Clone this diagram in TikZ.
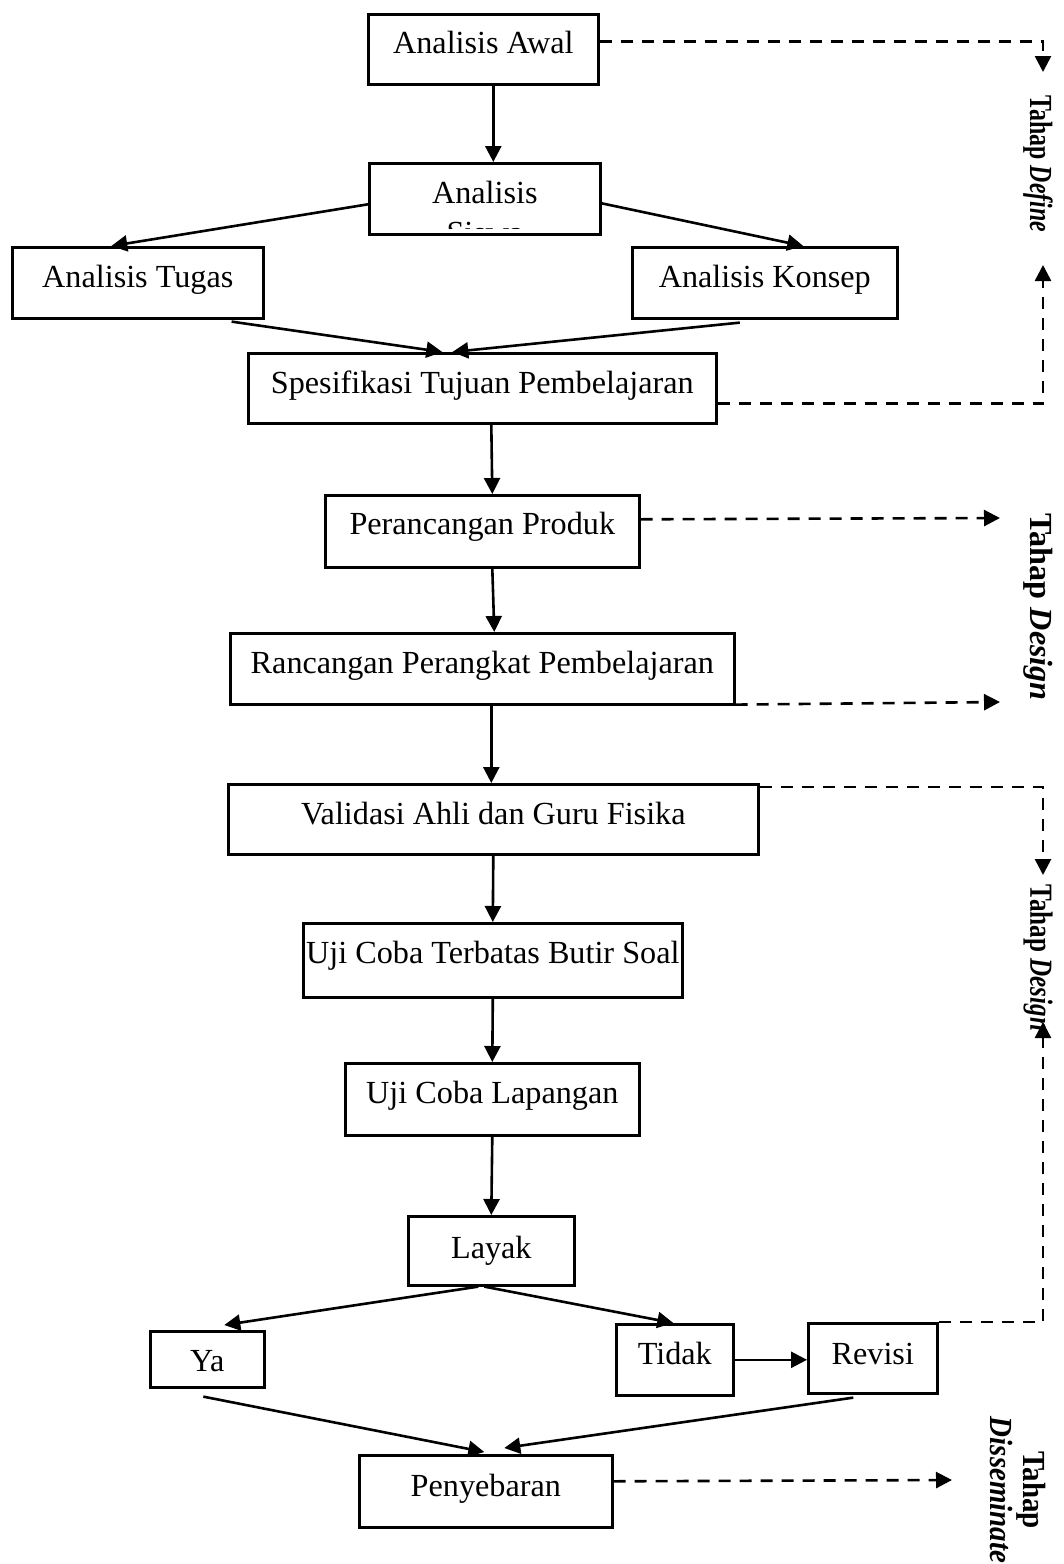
\documentclass[tikz,border=0pt]{standalone}
\usepackage{fontspec}
\setmainfont{Liberation Serif}
\usetikzlibrary{arrows.meta}
\newcommand\boxfont{\fontsize{32.2pt}{33pt}\selectfont}
\begin{document}
\begin{tikzpicture}[x=1pt,y=-1pt,
  box/.style={draw, line width=2.6pt, inner sep=0pt, anchor=north west, font=\boxfont},
  arr/.style={line width=2.6pt, -{Triangle[length=16pt,width=16pt]}},
  dsh/.style={line width=2.6pt, dash pattern=on 12pt off 9pt, -{Triangle[length=16pt,width=16pt]}},
  lbl/.style={rotate=-90, font=\boxfont\bfseries, inner sep=0pt}]
\useasboundingbox (0,0) rectangle (1064,1564);

% boxes
\node[box, minimum width=230pt, text height=39pt, text depth=31pt] (awal) at (367,13) {Analisis Awal};
\node[box, minimum width=231pt, text height=40pt, text depth=31pt] (siswa) at (368,162) {Analisis};
\begin{scope}
  \clip (370,164) rectangle (597,228);
  \node[font=\boxfont, anchor=base, inner sep=0pt] (siswaB) at (485,243) {Siswa};
\end{scope}
\node[box, minimum width=251pt, text height=40pt, text depth=31pt] (tugas) at (11,246) {Analisis Tugas};
\node[box, minimum width=265pt, text height=40pt, text depth=31pt] (konsep) at (631,246) {Analisis Konsep};
\node[box, minimum width=468pt, text height=40pt, text depth=30pt] (spes) at (247,352) {Spesifikasi Tujuan Pembelajaran};
\node[box, minimum width=314pt, text height=39pt, text depth=33pt] (prod) at (324,494) {Perancangan Produk};
\node[box, minimum width=504pt, text height=40pt, text depth=31pt] (ranc) at (229,632) {Rancangan Perangkat Pembelajaran};
\node[box, minimum width=530pt, text height=40pt, text depth=30pt] (valid) at (227,783) {Validasi Ahli dan Guru Fisika};
\node[box, minimum width=379pt, text height=40pt, text depth=34pt] (uji1) at (302,922) {Uji Coba Terbatas Butir Soal};
\node[box, minimum width=294pt, text height=40pt, text depth=32pt] (uji2) at (344,1062) {Uji Coba Lapangan};
\node[box, minimum width=166pt, text height=42pt, text depth=27pt] (layak) at (407,1215) {Layak};
\node[box, minimum width=114pt, text height=40pt, text depth=16pt] (ya) at (149,1330) {Ya};
\node[box, minimum width=117pt, text height=40pt, text depth=31pt] (tidak) at (615,1323) {Tidak};
\node[box, minimum width=129pt, text height=41pt, text depth=29pt] (revisi) at (807,1322) {Revisi};
\node[box, minimum width=253pt, text height=41pt, text depth=31pt] (peny) at (358,1454) {Penyebaran};

% solid arrows
\draw[arr] ([xshift=10pt]awal.south) -- ([xshift=8.5pt]siswa.north);
\draw[arr] ([yshift=-5.5pt]siswa.west) -- ([xshift=-26.5pt]tugas.north);
\draw[arr] ([yshift=-4.5pt]siswa.east) -- ([xshift=38.5pt]konsep.north);
\draw[arr] ([xshift=-33pt,yshift=-2pt]tugas.south east) -- ([xshift=-40pt]spes.north);
\draw[arr] ([xshift=-25pt,yshift=-3pt]konsep.south) -- ([xshift=-30pt]spes.north);
\draw[arr] ([xshift=9pt]spes.south) -- ([xshift=10pt]prod.north);
\draw[arr] ([xshift=10pt]prod.south) -- ([xshift=12pt]ranc.north);
\draw[arr] ([xshift=9pt]ranc.south) -- ([xshift=-2pt]valid.north);
\draw[arr] (valid.south) -- (uji1.north);
\draw[arr] (uji1.south) -- (uji2.north);
\draw[arr] (uji2.south) -- (layak.north);
\draw[arr] ([xshift=-13pt]layak.south) -- ([xshift=17pt,yshift=5pt]ya.north);
\draw[arr] ([xshift=-7pt]layak.south) -- ([xshift=-1.5pt]tidak.north);
\draw[arr] (tidak.east) -- (tidak.east -| revisi.west);
\draw[arr] ([xshift=-4pt,yshift=-8pt]ya.south) -- ([xshift=-1.5pt,yshift=2pt]peny.north);
\draw[arr] ([xshift=-19.5pt,yshift=-3pt]revisi.south) -- ([xshift=18.5pt,yshift=6pt]peny.north);

% dashed connectors
\coordinate (tDefA) at (1043,72);
\coordinate (tDefB) at (1043,265);
\coordinate (tDes1) at (1000,518);
\coordinate (tDes2) at (1000,702);
\coordinate (tDes3) at (1043,875);
\coordinate (tDes4) at (1043,1022);
\coordinate (tDis) at (952,1480);
\draw[dsh] ([yshift=8pt]awal.east) -| (tDefA);
\draw[dsh] ([yshift=-15pt]spes.east) -| (tDefB);
\draw[dsh] ([yshift=12pt]prod.east) -- (tDes1);
\draw[dsh] ([yshift=1pt]ranc.south east) -- (tDes2);
\draw[dsh] ([yshift=-4pt]valid.north east) -| (tDes3);
\draw[dsh] (revisi.north east) -| (tDes4);
\draw[dsh] ([yshift=10pt]peny.east) -- (tDis);

% stage labels
\node[lbl] (lDefine) at (1038,164) {\scalebox{0.74}[1]{Tahap \textit{Define}}};
\node[lbl] (lDesign1) at (1038,607) {Tahap \textit{Design}};
\node[lbl] (lDesign2) at (1038,958) {\scalebox{0.78}[1]{Tahap \textit{Design}}};
\node[lbl, align=center] (lDiss) at (1018,1490) {\scalebox{0.9}[1]{Tahap}\\\scalebox{0.9}[1]{\textit{Disseminate}}};
\end{tikzpicture}
\end{document}
